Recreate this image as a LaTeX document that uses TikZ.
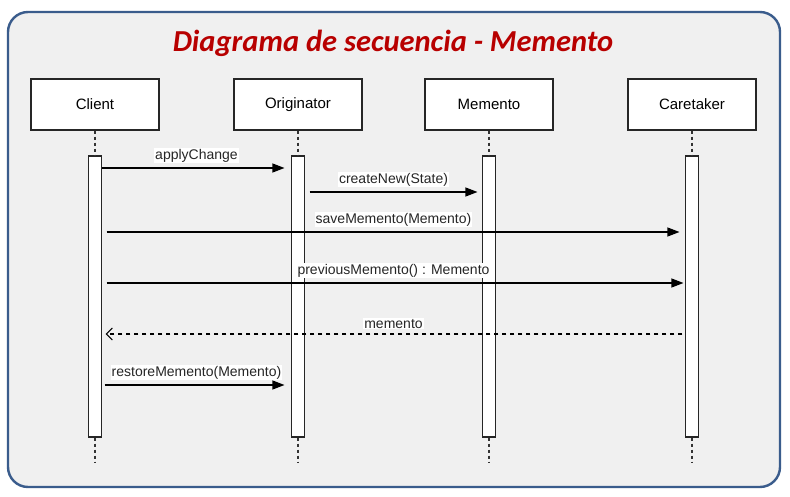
\documentclass[tikz,border=0pt]{standalone}
\usepackage{fontspec}
\setmainfont{Liberation Sans}
\newfontfamily\titlefont{Carlito}
\usetikzlibrary{arrows.meta}
\definecolor{frameblue}{HTML}{3A5C8C}
\definecolor{framefill}{HTML}{F0F0F0}
\definecolor{titlered}{HTML}{B80000}
\tikzset{
  x=1pt, y=-1pt,
  head/.style={draw=black!85, line width=1.1pt, fill=white, minimum width=128pt, minimum height=51pt, inner sep=0pt, font=\fontsize{15}{17}\selectfont},
  actbar/.style={draw=black!85, line width=1.1pt, fill=white, minimum width=13pt, minimum height=281pt, inner sep=0pt},
  life/.style={draw=black!80, line width=1.1pt, dash pattern=on 3pt off 3pt},
  msg/.style={draw=black, line width=1.1pt, -{Triangle[length=12pt,width=9pt]}},
  ret/.style={draw=black, line width=1.1pt, dash pattern=on 4.5pt off 3.5pt, -{Straight Barb[length=6pt,width=12pt,line width=1.1pt]}},
  lbl/.style={fill=white, inner sep=1pt, font=\fontsize{14}{16}\selectfont, text=black!85}
}
\begin{document}
\begin{tikzpicture}
\useasboundingbox (0,0) rectangle (790,497);
\fill[white] (0,0) rectangle (790,497);
\draw[frameblue, line width=2.4pt, fill=framefill, rounded corners=20pt] (8,12) rectangle (780,487);
\node[font=\titlefont\bfseries\itshape\fontsize{30.5}{34}\selectfont, text=titlered] (title) at (393,43) {Diagrama de secuencia - Memento};

\node[head] (client) at (95,104.5) {Client};
\node[head] (orig) at (298,104.5) {Originator};
\node[head] (mem) at (489,104.5) {Memento};
\node[head] (care) at (692,104.5) {Caretaker};

\node[actbar] (cb) at (95,296.5) {};
\node[actbar] (ob) at (298,296.5) {};
\node[actbar] (mb) at (489,296.5) {};
\node[actbar] (kb) at (692,296.5) {};

\coordinate (ce) at (95,462);
\coordinate (oe) at (298,462);
\coordinate (me) at (489,462);
\coordinate (ke) at (692,462);

\foreach \h/\b/\e in {client/cb/ce, orig/ob/oe, mem/mb/me, care/kb/ke}{
  \draw[life] (\h.south) -- (\b.north);
  \draw[life] (\b.south) -- (\e);
}

\draw[msg, shorten >=6.5pt] (cb.east |- 0,168) -- node[lbl, above=4pt] {applyChange} (ob.west |- 0,168);
\draw[msg, shorten <=4.5pt, shorten >=4.5pt] (ob.east |- 0,192) -- node[lbl, above=4pt] {createNew(State)} (mb.west |- 0,192);
\draw[msg, shorten <=4.5pt, shorten >=5.5pt] (cb.east |- 0,232) -- node[lbl, above=4pt] {saveMemento(Memento)} (kb.west |- 0,232);
\draw[msg, shorten <=4.5pt, shorten >=1.5pt] (cb.east |- 0,283) -- node[lbl, above=4pt] {previousMemento() : Memento} (kb.west |- 0,283);
\draw[ret, shorten <=2.5pt, shorten >=3.5pt] (kb.west |- 0,334) -- node[lbl, above=4pt] {memento} (cb.east |- 0,334);
\draw[msg, shorten <=2.5pt, shorten >=6.5pt] (cb.east |- 0,385) -- node[lbl, above=4pt] {restoreMemento(Memento)} (ob.west |- 0,385);
\end{tikzpicture}
\end{document}
